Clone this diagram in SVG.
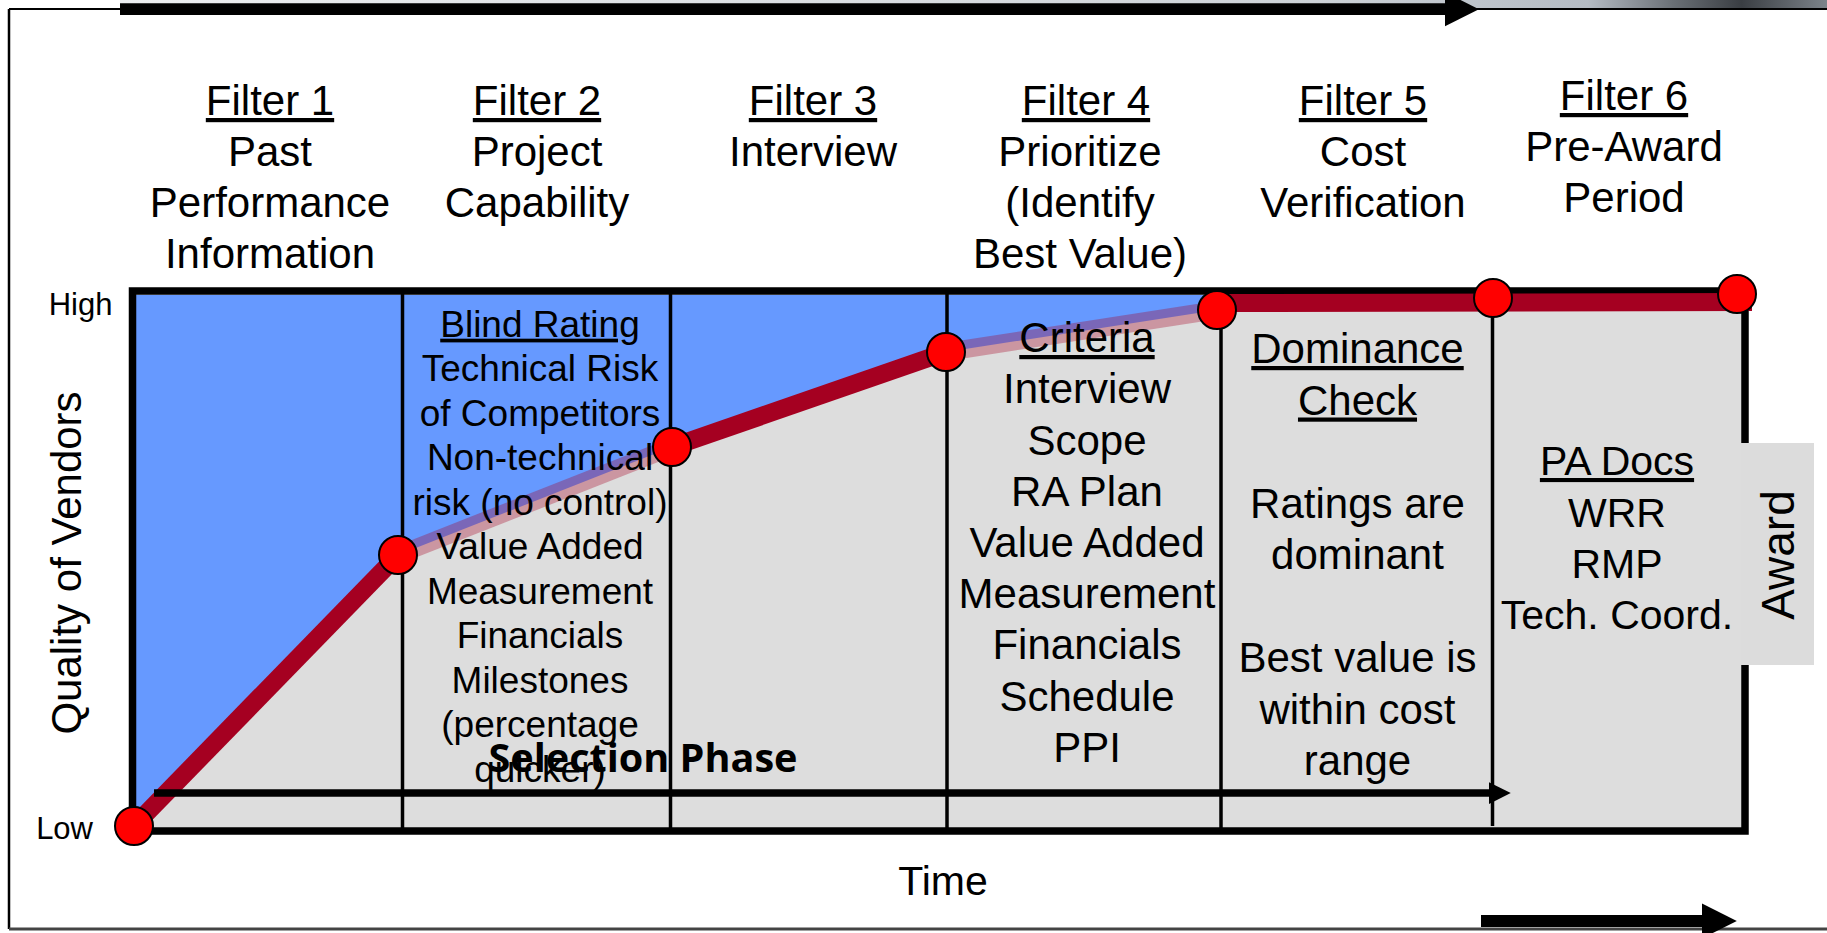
<svg xmlns="http://www.w3.org/2000/svg" width="1827" height="933" viewBox="0 0 1827 933">
<defs>
<linearGradient id="hdr" gradientUnits="userSpaceOnUse" x1="120" y1="0" x2="1827" y2="0">
<stop offset="0" stop-color="#eceef0"/>
<stop offset="0.7" stop-color="#cdd2d7"/>
<stop offset="0.86" stop-color="#b4bbc3"/>
<stop offset="0.91" stop-color="#6a7076"/>
<stop offset="0.95" stop-color="#3a3e43"/>
<stop offset="1" stop-color="#7d848b"/>
</linearGradient>
<marker id="ah" viewBox="0 0 10 10" refX="0" refY="5" markerUnits="strokeWidth" markerWidth="2.9" markerHeight="3" orient="auto">
<path d="M0,0 L10,5 L0,10 z" fill="#000"/>
</marker>
<style>
.t{font-family:"Liberation Sans",Arial,sans-serif;fill:#000;text-anchor:middle}
.h{font-size:42px}
.s{font-size:37px}
.m{font-size:42px}
.p{font-size:41px}
.u{text-decoration:underline}
.div{stroke:#000;stroke-width:3.5}
.red{stroke:#a50021;stroke-width:18;fill:none}
.redt{stroke:#a50021;stroke-width:18;stroke-opacity:0.32;fill:none}
.dot{fill:#ff0000;stroke:#000;stroke-width:2}
.arr{stroke:#000;fill:none;marker-end:url(#ah)}
</style>
</defs>
<rect width="1827" height="933" fill="#fff"/>
<g id="frame">
<rect x="120" y="0" width="1707" height="8" fill="url(#hdr)"/>
<line x1="9" y1="9" x2="1827" y2="9" stroke="#000" stroke-width="2"/>
<line x1="9" y1="9" x2="9" y2="929" stroke="#000" stroke-width="2.5"/>
<line x1="9" y1="929" x2="1827" y2="929" stroke="#444" stroke-width="3"/>
</g>
<g id="chart">
<rect x="132.5" y="291" width="1612.5" height="540" fill="#dddddd"/>
<polygon points="136,295 136,826 134,826 398,555 672,447 946,352 1217,310 1217,295" fill="#6699ff"/>
<line class="div" x1="402.5" y1="291" x2="402.5" y2="831"/>
<line class="div" x1="670.5" y1="291" x2="670.5" y2="831"/>
<line class="div" x1="947" y1="291" x2="947" y2="831"/>
<line class="div" x1="1221" y1="291" x2="1221" y2="834"/>
<line class="div" x1="1492.5" y1="291" x2="1492.5" y2="826"/>
<rect x="132.5" y="291" width="1612.5" height="540" fill="none" stroke="#000" stroke-width="7.5"/>
</g>
<g id="curve">
<line class="red" x1="134" y1="826" x2="398" y2="555"/>
<line class="redt" x1="398" y1="555" x2="672" y2="447"/>
<line class="red" x1="672" y1="447" x2="946" y2="352"/>
<line class="redt" x1="946" y1="352" x2="1217" y2="310"/>
<line class="red" x1="1217" y1="303" x2="1752" y2="302"/>
</g>
<g id="award">
<rect x="1741" y="443" width="73" height="222" fill="#dcdcdc"/>
<text class="t" font-size="46" transform="translate(1794,555) rotate(-90)">Award</text>
</g>
<g id="connectors">
<line class="arr" x1="120" y1="9.2" x2="1445" y2="9.2" stroke-width="11.7"/>
<line class="arr" x1="1481" y1="921" x2="1702" y2="921" stroke-width="12"/>
<line class="arr" x1="154" y1="793" x2="1489" y2="793" stroke-width="7.5"/>
</g>
<g id="dots">
<circle class="dot" cx="134" cy="826" r="19"/>
<circle class="dot" cx="398" cy="555" r="19"/>
<circle class="dot" cx="672" cy="447" r="19"/>
<circle class="dot" cx="946" cy="352" r="19"/>
<circle class="dot" cx="1217" cy="310" r="19"/>
<circle class="dot" cx="1493" cy="298" r="19"/>
<circle class="dot" cx="1737" cy="294" r="19"/>
</g>
<g id="axes">
<text class="t" font-size="31" x="112.5" y="315" style="text-anchor:end">High</text>
<text class="t" font-size="31" x="93" y="839" style="text-anchor:end">Low</text>
<text class="t" font-size="41" x="943" y="895">Time</text>
<text class="t" font-size="42" transform="translate(81,563) rotate(-90)">Quality of Vendors</text>
</g>
<g id="filter1">
<text class="t h"><tspan class="u" x="270" y="115">Filter 1</tspan><tspan x="270" y="166">Past</tspan><tspan x="270" y="217">Performance</tspan><tspan x="270" y="268">Information</tspan></text>
</g>
<g id="filter2">
<text class="t h"><tspan class="u" x="537" y="115">Filter 2</tspan><tspan x="537" y="166">Project</tspan><tspan x="537" y="217">Capability</tspan></text>
<text class="t s"><tspan class="u" x="540" y="336.7">Blind Rating</tspan><tspan x="540" y="381.2">Technical Risk</tspan><tspan x="540" y="425.7">of Competitors</tspan><tspan x="540" y="470.2">Non-technical</tspan><tspan x="540" y="514.7">risk (no control)</tspan><tspan x="540" y="559.2">Value Added</tspan><tspan x="540" y="603.7">Measurement</tspan><tspan x="540" y="648.2">Financials</tspan><tspan x="540" y="692.7">Milestones</tspan><tspan x="540" y="737.2">(percentage</tspan><tspan x="540" y="781.7">quicker)</tspan></text>
</g>
<g id="filter3">
<text class="t h"><tspan class="u" x="813" y="115">Filter 3</tspan><tspan x="813" y="166">Interview</tspan></text>
</g>
<g id="filter4">
<text class="t h"><tspan class="u" x="1086" y="115">Filter 4</tspan><tspan x="1080" y="166">Prioritize</tspan><tspan x="1080" y="217">(Identify</tspan><tspan x="1080" y="268">Best Value)</tspan></text>
<text class="t m"><tspan class="u" x="1087" y="352">Criteria</tspan><tspan x="1087" y="403">Interview</tspan><tspan x="1087" y="454.5">Scope</tspan><tspan x="1087" y="505.5">RA Plan</tspan><tspan x="1087" y="556.7">Value Added</tspan><tspan x="1087" y="608">Measurement</tspan><tspan x="1087" y="659">Financials</tspan><tspan x="1087" y="710.5">Schedule</tspan><tspan x="1087" y="761.5">PPI</tspan></text>
</g>
<g id="filter5">
<text class="t h"><tspan class="u" x="1363" y="115">Filter 5</tspan><tspan x="1363" y="166">Cost</tspan><tspan x="1363" y="217">Verification</tspan></text>
<text class="t m"><tspan class="u" x="1357.5" y="363">Dominance</tspan><tspan class="u" x="1357.5" y="414.5">Check</tspan><tspan x="1357.5" y="517.5">Ratings are</tspan><tspan x="1357.5" y="569">dominant</tspan><tspan x="1357.5" y="672">Best value is</tspan><tspan x="1357.5" y="723.5">within cost</tspan><tspan x="1357.5" y="775">range</tspan></text>
</g>
<g id="filter6">
<text class="t h"><tspan class="u" x="1624" y="110">Filter 6</tspan><tspan x="1624" y="161">Pre-Award</tspan><tspan x="1624" y="212">Period</tspan></text>
<text class="t p"><tspan class="u" x="1617" y="475">PA Docs</tspan><tspan x="1617" y="526.5">WRR</tspan><tspan x="1617" y="577.5">RMP</tspan><tspan x="1617" y="628.5">Tech. Coord.</tspan></text>
</g>
<g id="phase">
<text x="643" y="772" font-family="'Open Sans','Noto Sans',sans-serif" font-weight="bold" font-size="40" text-anchor="middle" textLength="309" lengthAdjust="spacingAndGlyphs">Selection Phase</text>
</g>
</svg>
